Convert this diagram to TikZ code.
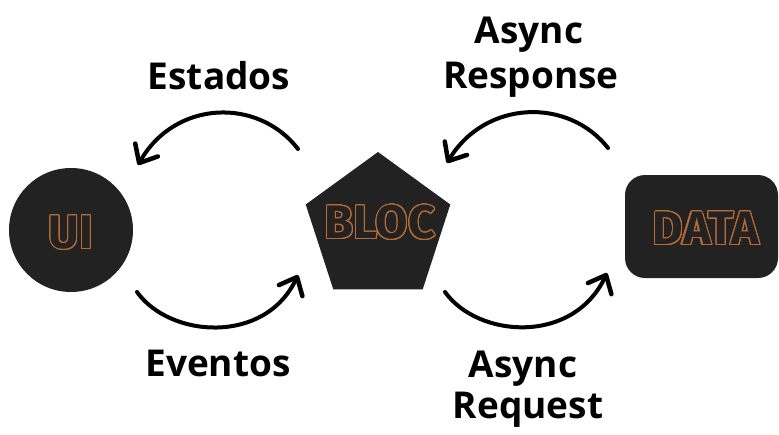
\documentclass[tikz,border=0pt]{standalone}
\usepackage{fontspec}
\setmainfont{Open Sans}
\newfontfamily\boxfont{Fira Sans}
\usepackage[copies]{contour}
\usetikzlibrary{arrows.meta,shapes.geometric}
\definecolor{shapefill}{RGB}{34,34,34}
\definecolor{rim}{RGB}{184,106,52}
\contourlength{1.1pt}
\contournumber{24}
\newcommand{\hollow}[1]{\contour{rim}{\textcolor{shapefill}{#1}}}

\tikzset{
  shapebox/.style={fill=shapefill, draw=none, inner sep=0pt},
  boxlabel/.style={font=\boxfont\bfseries\fontsize{47}{47}\selectfont, inner sep=0pt},
  caption/.style={font=\bfseries\fontsize{37}{44}\selectfont, inner sep=0pt, anchor=base},
  flow/.style={line width=4pt, line cap=round,
    -{Straight Barb[length=15pt,width=26pt,line width=4.5pt,round]}}
}

\begin{document}
\begin{tikzpicture}[x=1pt,y=-1pt]
  \useasboundingbox (0,0) rectangle (779,434);

  % the three parts
  \node[shapebox, circle, minimum size=124pt] (ui) at (71,230) {};
  \node[shapebox, regular polygon, regular polygon sides=5, minimum size=152pt] (bloc) at (378,228) {};
  \node[shapebox, rectangle, rounded corners=20pt, minimum width=153pt, minimum height=103pt] (data) at (701.5,226.5) {};

  \node[boxlabel] (uitext) at (71,233) {\hollow{UI}};
  \node[boxlabel] (bloctext) at (380,223) {\hollow{BLOC}};
  \node[boxlabel] (datatext) at (706,229) {\hollow{DATA}};

  % captions
  \node[caption] (estados) at (219,89) {Estados};
  \node[caption] (async1) at (529,43) {Async};
  \node[caption] (response) at (531,88) {Response};
  \node[caption] (eventos) at (218,376) {Eventos};
  \node[caption] (async2) at (523,377) {Async};
  \node[caption] (request) at (528,418) {Request};

  % arrow end points
  \coordinate (e1) at (298,149);
  \coordinate (e2) at (138,165);
  \coordinate (r1) at (608,148);
  \coordinate (r2) at (447,163);
  \coordinate (v1) at (137,292);
  \coordinate (v2) at (298,275);
  \coordinate (q1) at (445,292);
  \coordinate (q2) at (607,273);

  \draw[flow] (e1) .. controls (258,97) and (175,100) .. (e2);
  \draw[flow] (r1) .. controls (568,97) and (485,100) .. (r2);
  \draw[flow] (v1) .. controls (170,338) and (265,345) .. (v2);
  \draw[flow] (q1) .. controls (478,338) and (573,345) .. (q2);
\end{tikzpicture}
\end{document}
